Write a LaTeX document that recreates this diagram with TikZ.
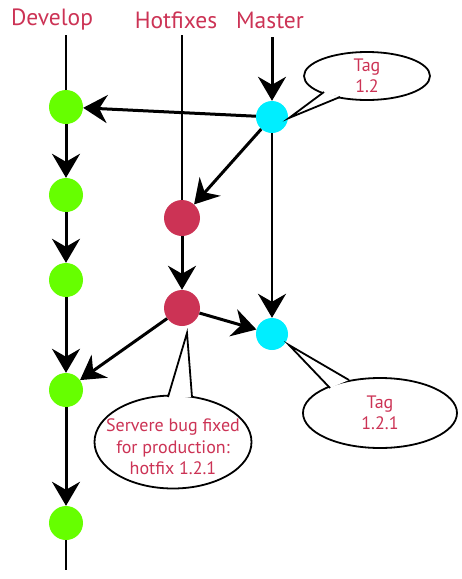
\documentclass[tikz,border=0pt]{standalone}
\usepackage{fontspec}
\setmainfont{PT Sans}
\usetikzlibrary{arrows.meta,shapes.geometric}
\definecolor{crim}{HTML}{CC3355}
\definecolor{grn}{HTML}{66FF00}
\definecolor{cyn}{HTML}{00EEFF}
\begin{document}
\begin{tikzpicture}[x=1pt,y=-1pt,
  commit/.style={circle,minimum size=34pt,inner sep=0pt},
  dev/.style={commit,fill=grn},
  hot/.style={commit,fill=crim,minimum size=36pt},
  mas/.style={commit,fill=cyn,minimum size=32pt},
  branchlbl/.style={text=crim,font=\fontsize{23.5}{26}\selectfont},
  flow/.style={line width=3pt,-{Stealth[length=24pt,width=28pt,inset=8pt]}},
  plain/.style={line width=2.4pt},
  callout/.style={ellipse,draw,line width=1.8pt,fill=white,inner sep=0pt},
  ctext/.style={text=crim,font=\fontsize{18}{21.5}\selectfont,align=center}]
\useasboundingbox (0,0) rectangle (462,579);
% labels
\node[branchlbl] (ld) at (52,20) {Develop};
\node[branchlbl] (lh) at (176,20) {Hotfixes};
\node[branchlbl] (lm) at (270,20) {Master};
\coordinate (dtop) at (66,35);
\coordinate (dbot) at (66,570);
\coordinate (htop) at (182,35);
\coordinate (mtop) at (272,37);
% commits
\node[dev] (g1) at (66,107) {};
\node[dev] (g2) at (66,195) {};
\node[dev] (g3) at (66,280) {};
\node[dev] (g4) at (66,390) {};
\node[dev] (g5) at (66,523) {};
\node[hot] (r1) at (182,218) {};
\node[hot] (r2) at (182,308) {};
\node[mas] (c1) at (272,117) {};
\node[mas] (c2) at (272,334) {};
% lines
\draw[plain] (dtop) -- (g1);
\draw[plain] (g5) -- (dbot);
\draw[plain] (htop) -- (r1);
\draw[flow] (mtop) -- (c1);
\draw[flow] (g1) -- (g2);
\draw[flow] (g2) -- (g3);
\draw[flow] (g3) -- (g4);
\draw[flow] (g4) -- (g5);
\draw[flow] (c1) -- (g1);
\draw[flow] (c1) -- (r1);
\draw[flow,line width=2.4pt] (c1) -- (c2);
\draw[flow] (r1) -- (r2);
\draw[flow] (r2) -- (c2);
\draw[flow] (r2) -- (g4);
% callouts
\node[callout,minimum width=126pt,minimum height=48pt] (t1) at (367,76) {};
\node[ctext] at (t1) {Tag\\1.2};
\coordinate (t1a) at (324,92);
\coordinate (t1b) at (340,97);
\coordinate (t1tip) at (289,118);
\fill[white] (t1a) -- (t1tip) -- (t1b) -- cycle;
\draw[line width=1.8pt] (t1a) -- (t1tip) -- (t1b);
\node[callout,minimum width=154pt,minimum height=70pt] (t2) at (380,413) {};
\node[ctext] at (t2) {Tag\\1.2.1};
\coordinate (t2a) at (330,388);
\coordinate (t2b) at (349,380);
\coordinate (t2tip) at (289,345);
\fill[white] (t2a) -- (t2tip) -- (t2b) -- cycle;
\draw[line width=1.8pt] (t2a) -- (t2tip) -- (t2b);
\node[callout,minimum width=157pt,minimum height=93pt] (t3) at (173,442) {};
\node[ctext] at ([yshift=-5pt]t3.center) {Servere bug fixed\\for production:\\hotfix 1.2.1};
\coordinate (t3a) at (168,397);
\coordinate (t3b) at (192,397);
\coordinate (t3tip) at (187,333);
\fill[white] (t3a) -- (t3tip) -- (t3b) -- cycle;
\draw[line width=1.8pt] (t3a) -- (t3tip) -- (t3b);
\end{tikzpicture}
\end{document}
